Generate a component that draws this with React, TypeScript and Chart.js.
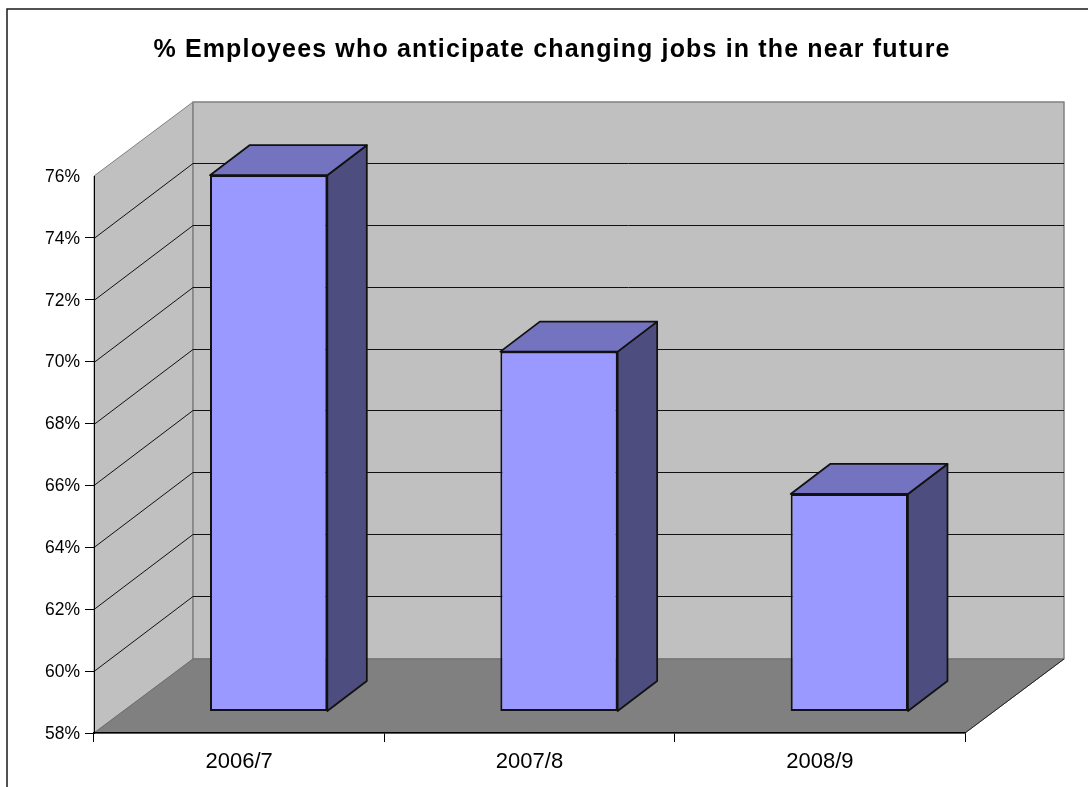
import { useEffect, useRef } from "react";
import { Chart, registerables } from "chart.js";

Chart.register(...registerables);

const periods = ["2006/7", "2007/8", "2008/9"];
const employeeShare = [75.33, 69.63, 65.03];
const axisMin = 58;
const axisMax = 76;
const axisStep = 2;
const chartTitle = "% Employees who anticipate changing jobs in the near future";

const FONT = "'Liberation Sans', Arial, sans-serif";
// Perspective offsets of the box: full depth of the floor, and the bars' placement in it.
const WALL_DX = 99;
const WALL_DY = -74;
const BAR_DX = 29.5;
const BAR_DY = -21.5;
const BAR_DEPTH_X = 39.5;
const BAR_DEPTH_Y = -30;

function poly(ctx: CanvasRenderingContext2D, pts: number[][], fill: string, stroke: string, lw = 1) {
  ctx.beginPath();
  pts.forEach(([x, y], i) => (i ? ctx.lineTo(x, y) : ctx.moveTo(x, y)));
  ctx.closePath();
  ctx.fillStyle = fill;
  ctx.fill();
  ctx.lineWidth = lw;
  ctx.strokeStyle = stroke;
  ctx.lineJoin = "round";
  ctx.stroke();
}

// Frame, walls, floor and gridlines of the pseudo-3D box, placed from the chart's own scales.
const roomPlugin = {
  id: "room",
  beforeDraw(chart: any) {
    const { ctx, chartArea: a, scales } = chart;
    const tb = chart.titleBlock;
    if (tb && !tb.__spaced) {
      const drawTitle = tb.draw.bind(tb);
      tb.draw = () => {
        ctx.save();
        ctx.letterSpacing = "1.15px";
        drawTitle();
        ctx.restore();
      };
      tb.__spaced = true;
      // Value labels sit one pixel below the tick marks.
      scales.y.getLabelItems().forEach((item: any) => {
        item.options.translation[1] += 1;
      });
    }
    ctx.save();
    ctx.strokeStyle = "#1a1a1a";
    ctx.lineWidth = 1.5;
    ctx.strokeRect(7, 9, 1300, 1000);

    const { left: l, right: r, top: t, bottom: b } = a;
    const dx = WALL_DX;
    const dy = WALL_DY;
    poly(ctx, [[l, t], [l + dx, t + dy], [l + dx, b + dy], [l, b]], "#c0c0c0", "#808080", 1);
    poly(ctx, [[l + dx, t + dy], [r + dx, t + dy], [r + dx, b + dy], [l + dx, b + dy]], "#c0c0c0", "#808080", 1.5);
    poly(ctx, [[l, b], [l + dx, b + dy], [r + dx, b + dy], [r, b]], "#808080", "#6e6e6e", 1);

    ctx.strokeStyle = "#111";
    ctx.lineWidth = 1;
    scales.y.ticks.forEach((tick: any) => {
      if (tick.value === axisMin || tick.value === axisMax) return;
      const y = Math.round(scales.y.getPixelForValue(tick.value)) + 0.5;
      ctx.beginPath();
      ctx.moveTo(l, y);
      ctx.lineTo(l + dx, y + dy - 1);
      ctx.lineTo(r + dx, y + dy - 1);
      ctx.stroke();
    });
    ctx.beginPath();
    ctx.moveTo(r, b);
    ctx.lineTo(r + dx, b + dy);
    ctx.strokeStyle = "#222";
    ctx.stroke();
    ctx.restore();
  },
  // Top and side faces go down first, then the library's bars are shifted into the box.
  beforeDatasetDraw(chart: any, args: any) {
    const { ctx } = chart;
    const bars = chart.getDatasetMeta(args.index).data;
    ctx.save();
    bars.forEach((bar: any) => {
      const { x, y, width, base } = bar.getProps(["x", "y", "width", "base"], true);
      const x0 = x - width / 2 + BAR_DX;
      const x1 = x + width / 2 + BAR_DX;
      const top = y + BAR_DY;
      const bot = base + BAR_DY;
      const ex = BAR_DEPTH_X;
      const ey = BAR_DEPTH_Y;
      poly(ctx, [[x1, top], [x1 + ex, top + ey], [x1 + ex, bot + ey], [x1, bot]], "#4d4d80", "#111", 1.75);
      poly(ctx, [[x0, top], [x0 + ex, top + ey], [x1 + ex, top + ey], [x1, top]], "#7373bf", "#111", 1.75);
    });
    ctx.restore();
    ctx.save();
    ctx.translate(BAR_DX, BAR_DY);
  },
  afterDatasetDraw(chart: any) {
    chart.ctx.restore();
  },
};

export default function App() {
  const ref = useRef<HTMLCanvasElement>(null);
  useEffect(() => {
    const chart = new Chart(ref.current!, {
      type: "bar",
      data: {
        labels: periods,
        datasets: [
          {
            data: employeeShare,
            base: axisMin,
            clip: false,
            backgroundColor: "#9999ff",
            borderColor: "#111",
            borderWidth: 2,
            borderSkipped: false,
            barPercentage: 0.404,
            categoryPercentage: 1,
          },
        ],
      },
      options: {
        animation: false,
        responsive: false,
        layout: { padding: { left: 16, right: 0, top: 0, bottom: 0 } },
        plugins: {
          legend: { display: false },
          tooltip: { enabled: false },
          title: {
            display: true,
            text: chartTitle,
            color: "#000",
            font: { family: FONT, size: 25, weight: "bold", lineHeight: 1.2 },
            padding: { top: 35, bottom: 111 },
          },
        },
        scales: {
          x: {
            grid: { drawOnChartArea: false, tickLength: 9, tickColor: "#000" },
            border: { color: "#000", width: 1.5 },
            ticks: { color: "#000", font: { family: FONT, size: 22 }, padding: 7, maxRotation: 0 },
            afterFit: (s: any) => {
              s.height = 54;
            },
          },
          y: {
            min: axisMin,
            max: axisMax,
            grid: {
              drawOnChartArea: false,
              tickLength: 9,
              tickColor: (c: any) => (c.tick && c.tick.value === axisMax ? "transparent" : "#000"),
            },
            border: { color: "#000", width: 1 },
            ticks: {
              stepSize: axisStep,
              color: "#000",
              font: { family: FONT, size: 17.5 },
              padding: 5,
              callback: (v: any) => `${v}%`,
            },
            afterFit: (s: any) => {
              s.width = 78;
            },
          },
          // Empty spacer that keeps the title centred on the whole frame.
          spacer: {
            type: "linear",
            position: "right",
            grid: { display: false },
            border: { display: false },
            ticks: { display: false },
            afterFit: (s: any) => {
              s.width = 123;
            },
          },
        },
      },
      plugins: [roomPlugin],
    } as any);
    return () => chart.destroy();
  }, []);
  return (
    <div style={{ position: "absolute", left: 0, top: 0, width: 1088, height: 787, background: "#fff", overflow: "hidden" }}>
      <canvas ref={ref} width={1088} height={787} style={{ display: "block" }} />
    </div>
  );
}
